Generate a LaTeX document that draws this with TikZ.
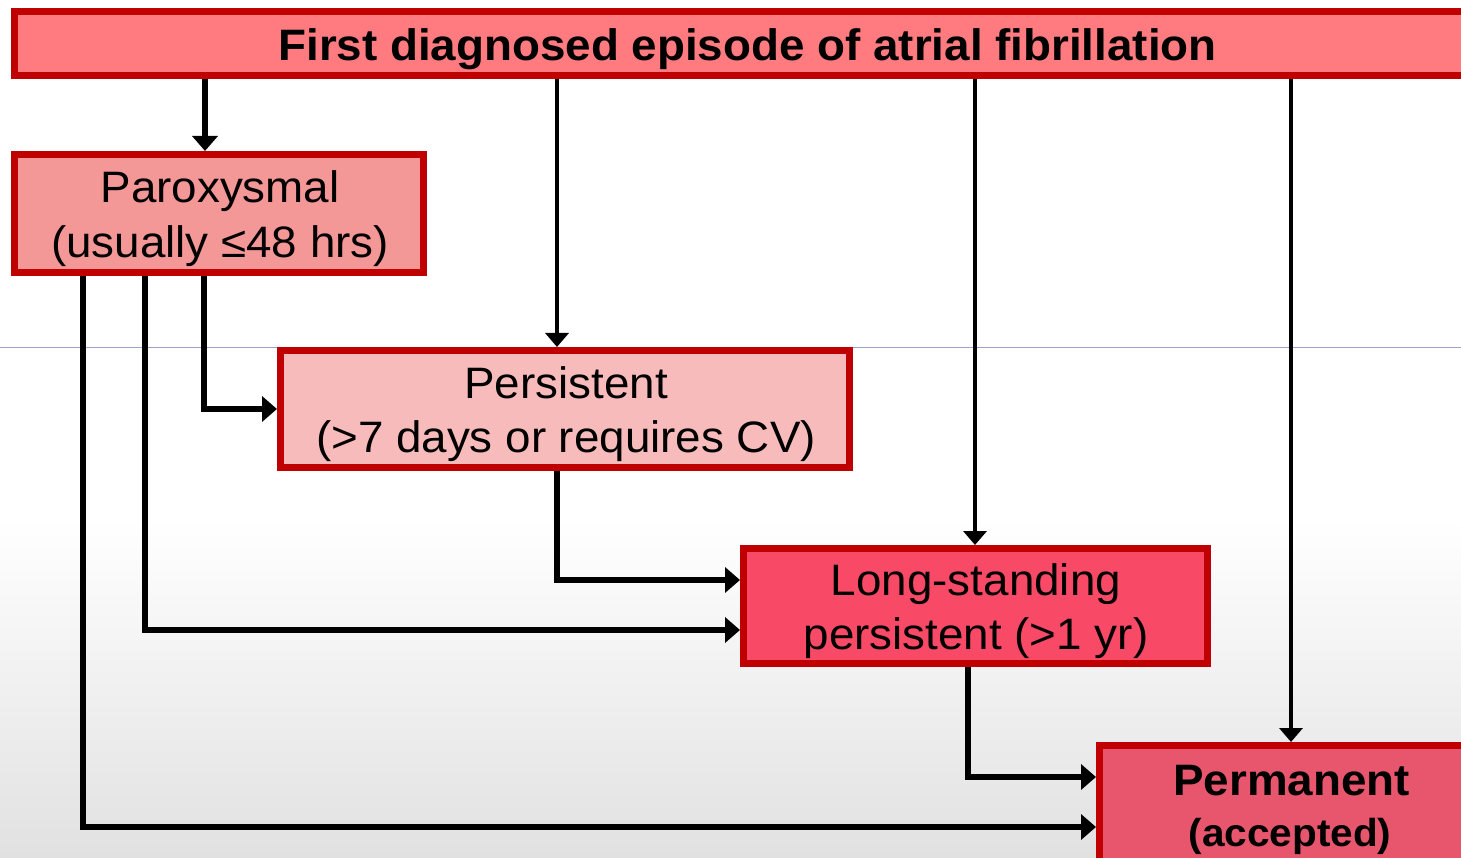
\documentclass[tikz,border=0pt]{standalone}
\usepackage{fontspec}
\setmainfont[FakeStretch=1.04]{Liberation Sans}
\usetikzlibrary{arrows.meta}
\definecolor{bordred}{HTML}{C00000}
\definecolor{topfill}{HTML}{FF7B7F}
\definecolor{parfill}{HTML}{F49797}
\definecolor{perfill}{HTML}{F8BBBB}
\definecolor{lsfill}{HTML}{F84A66}
\definecolor{pmfill}{HTML}{E8566E}
\definecolor{bggray}{HTML}{E1E1E1}
\definecolor{guide}{HTML}{A0A0CC}
\tikzset{
  box/.style={rectangle, draw=bordred, line width=7pt, inner sep=0pt},
  txt/.style={anchor=base, inner sep=0pt, font=\fontsize{44}{55}\selectfont},
  btxt/.style={anchor=base, inner sep=0pt, font=\fontsize{44}{55}\selectfont\bfseries},
  conn/.style={line width=6pt, -{Triangle[length=15pt,width=25pt]}},
  tconn/.style={line width=4.5pt, -{Triangle[length=14pt,width=23pt]}}
}
\begin{document}
\begin{tikzpicture}[x=1pt,y=-1pt]
\useasboundingbox (0,0) rectangle (1461,858);
\clip (0,0) rectangle (1461,858);
\fill[white] (0,0) rectangle (1461,858);
\shade[top color=white, bottom color=bggray] (0,520) rectangle (1461,858);
\draw[guide, line width=1pt] (0,348) -- (1461,348);

% boxes (outer edges given, path inset by half the line width)
\node[box, fill=topfill, minimum width=1465pt, minimum height=64pt] (top) at (747,43.5) {};
\node[box, fill=parfill, minimum width=409pt, minimum height=118pt] (pa) at (219,213.5) {};
\node[box, fill=perfill, minimum width=569pt, minimum height=117pt] (pe) at (565,409) {};
\node[box, fill=lsfill, minimum width=464pt, minimum height=115pt] (ls) at (975.5,606) {};
\node[box, fill=pmfill, minimum width=383pt, minimum height=151pt] (pm) at (1291,821) {};

% texts
\node[btxt] (ttop) at (747.5,61) {First diagnosed episode of atrial fibrillation};
\node[txt] (pa1) at (220,203) {Paroxysmal};
\node[txt] (pa2) at (220,258) {(usually ≤48 hrs)};
\node[txt] (pe1) at (566,398) {Persistent};
\node[txt] (pe2) at (566,452) {(>7 days or requires CV)};
\node[txt] (ls1) at (976,595) {Long-standing};
\node[txt] (ls2) at (976,649) {persistent (>1 yr)};
\node[btxt] (pm1) at (1291.5,795) {Permanent};
\node[anchor=base, inner sep=0pt, font=\fontsize{39}{48}\selectfont\bfseries] (pm2) at (1290,846) {(accepted)};

% helper coordinates
\coordinate (xa) at (205,0);
\coordinate (xb) at (557,0);
\coordinate (xc) at (975,0);
\coordinate (xd) at (1291,0);
\coordinate (p1) at (83,827);
\coordinate (p2) at (145,630);
\coordinate (p3) at (204,409);
\coordinate (q1) at (557,580);
\coordinate (r1) at (968,777);

% connectors from the top box
\draw[conn] (top.south -| xa) -- (pa.north -| xa);
\draw[tconn] (top.south -| xb) -- (pe.north -| xb);
\draw[tconn] (top.south -| xc) -- (ls.north -| xc);
\draw[tconn] (top.south -| xd) -- (pm.north -| xd);

% connectors from paroxysmal
\draw[conn] (pa.south -| p3) |- (pe.west |- p3);
\draw[conn] (pa.south -| p2) |- (ls.west |- p2);
\draw[conn] (pa.south -| p1) |- (pm.west |- p1);

% persistent -> long-standing
\draw[conn] (pe.south -| q1) |- (ls.west |- q1);
% long-standing -> permanent
\draw[conn] (ls.south -| r1) |- (pm.west |- r1);
\end{tikzpicture}
\end{document}
